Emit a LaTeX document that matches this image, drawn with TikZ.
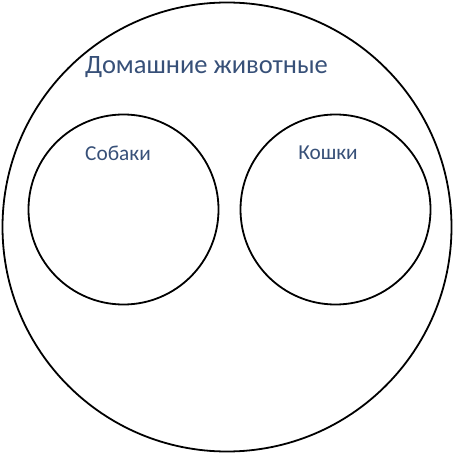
\documentclass[tikz,border=0pt]{standalone}
\usepackage{fontspec}
\setmainfont{Carlito}
\definecolor{txt}{RGB}{55,80,120}
\begin{document}
\begin{tikzpicture}[x=1pt,y=-1pt,
  ring/.style={circle,draw=black,line width=1.8pt,inner sep=0pt},
  lbl/.style={text=txt,inner sep=0pt,anchor=base}]
\useasboundingbox (0,0) rectangle (454,454);
\node[ring,minimum size=449pt] (outer) at (227,227) {};
\node[ring,minimum size=190pt] (dogs) at (123.5,209.5) {};
\node[ring,minimum size=190pt] (cats) at (335.5,209.5) {};
\node[lbl,font=\fontsize{26.5}{30}\selectfont] (title) at (206.5,73.3) {Домашние животные};
\node[lbl,font=\fontsize{21.3}{25}\selectfont] (dogl) at (118,160.7) {Собаки};
\node[lbl,font=\fontsize{21.3}{25}\selectfont] (catl) at (328,160) {Кошки};
\end{tikzpicture}
\end{document}
